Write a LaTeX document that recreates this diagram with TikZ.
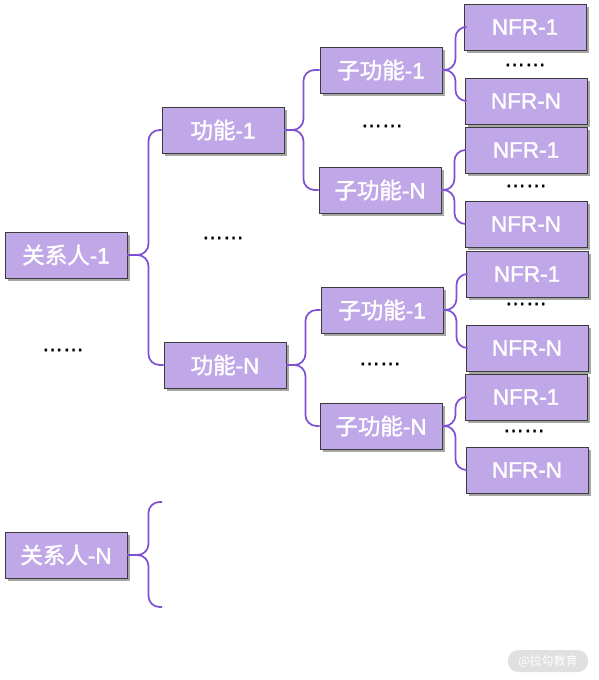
\documentclass[tikz,border=0pt]{standalone}
\usepackage{fontspec}
\setmainfont{Liberation Sans}
\newfontfamily\boxlat{Liberation Sans}[FakeBold=1.5]
\newfontfamily\cjk{Noto Sans CJK SC}[FakeBold=1.5]
\newfontfamily\wmfont{Noto Sans CJK SC}
\usetikzlibrary{shadows}
\definecolor{boxfill}{HTML}{C0A8E8}
\definecolor{boxline}{HTML}{3C3C3C}
\definecolor{bracecol}{HTML}{7E50D2}
\begin{document}
\begin{tikzpicture}[x=1pt,y=-1pt,
  box/.style={draw=boxline, line width=0.9pt, fill=boxfill, text=white,
    minimum width=122pt, minimum height=46pt, inner sep=0pt,
    font=\boxlat\fontsize{22.5}{22.5}\selectfont,
    drop shadow={shadow xshift=2.5pt, shadow yshift=-2.5pt, opacity=0.35, fill=black}},
  dots/.style={font=\boxlat\fontsize{21}{21}\selectfont, inner sep=0pt},
  brace/.style={draw=bracecol, line width=1.7pt, rounded corners=11pt}]
\useasboundingbox (0,0) rectangle (598,680);
% level 1
\node[box] (r1) at (66,255) {{\cjk 关系人}-1};
\node[box] (rN) at (66,555) {{\cjk 关系人}-N};
% level 2
\node[box] (f1) at (223,130) {{\cjk 功能}-1};
\node[box] (fN) at (225,365) {{\cjk 功能}-N};
% level 3
\node[box] (s11) at (381,70) {{\cjk 子功能}-1};
\node[box] (s1N) at (380,190) {{\cjk 子功能}-N};
\node[box] (s21) at (382,310) {{\cjk 子功能}-1};
\node[box] (s2N) at (381,426) {{\cjk 子功能}-N};
% level 4
\node[box] (n111) at (525,27) {NFR-1};
\node[box] (n11N) at (526,101) {NFR-N};
\node[box] (n1N1) at (526,150) {NFR-1};
\node[box] (n1NN) at (526,224) {NFR-N};
\node[box] (n211) at (527,274) {NFR-1};
\node[box] (n21N) at (527,348) {NFR-N};
\node[box] (n2N1) at (526,397) {NFR-1};
\node[box] (n2NN) at (527,470) {NFR-N};
% dots
\node[dots] (d1) at (223,238) {……};
\node[dots] (d2) at (63,350) {……};
\node[dots] (d3) at (382,126) {……};
\node[dots] (d4) at (380,364) {……};
\node[dots] (d5) at (525,65) {……};
\node[dots] (d6) at (526,186) {……};
\node[dots] (d7) at (526,304) {……};
\node[dots] (d8) at (524,431) {……};
% braces
\draw[brace] (r1.east) -- ++(21,0) |- (f1.west);
\draw[brace] (r1.east) -- ++(21,0) |- (fN.west);
\draw[brace] (f1.east) -- ++(19,0) |- (s11.west);
\draw[brace] (f1.east) -- ++(19,0) |- (s1N.west);
\draw[brace] (fN.east) -- ++(19,0) |- (s21.west);
\draw[brace] (fN.east) -- ++(19,0) |- (s2N.west);
\draw[brace] (s11.east) -- ++(13,0) |- (n111.west);
\draw[brace] (s11.east) -- ++(13,0) |- (n11N.west);
\draw[brace] (s1N.east) -- ++(13,0) |- (n1N1.west);
\draw[brace] (s1N.east) -- ++(13,0) |- (n1NN.west);
\draw[brace] (s21.east) -- ++(13,0) |- (n211.west);
\draw[brace] (s21.east) -- ++(13,0) |- (n21N.west);
\draw[brace] (s2N.east) -- ++(13,0) |- (n2N1.west);
\draw[brace] (s2N.east) -- ++(13,0) |- (n2NN.west);
\coordinate (eA) at (162,502);
\coordinate (eB) at (162,607);
\draw[brace] (rN.east) -- ++(21,0) |- (eA);
\draw[brace] (rN.east) -- ++(21,0) |- (eB);
% watermark
\node[fill=black!12, rounded corners=10pt, minimum width=80pt, minimum height=22pt,
  inner sep=0pt, text=white, font=\wmfont\fontsize{12}{12}\selectfont] (wm) at (548,661) {@拉勾教育};
\end{tikzpicture}
\end{document}
